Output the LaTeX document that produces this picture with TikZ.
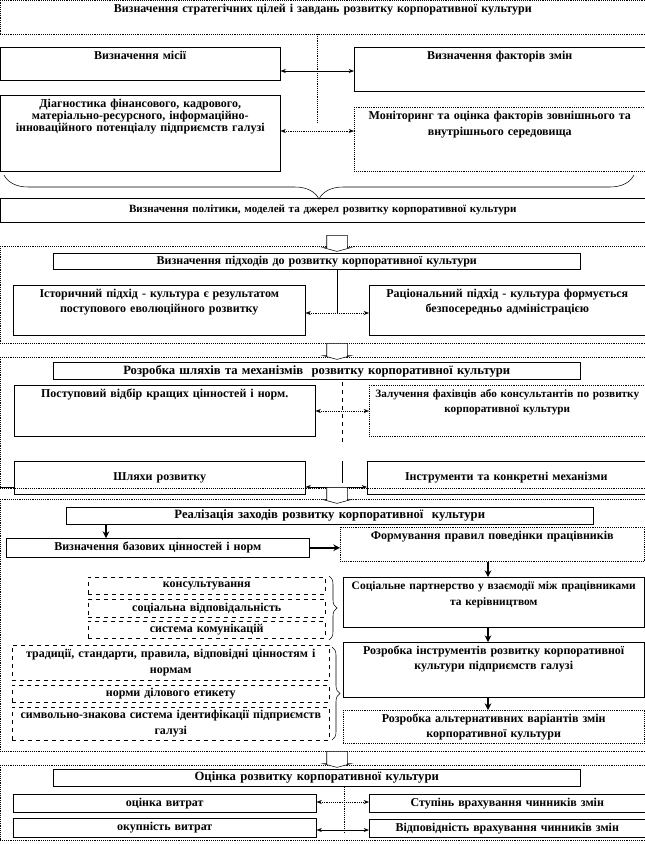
\documentclass[tikz,border=0pt]{standalone}
\usepackage{fontspec}
\setmainfont{Liberation Serif}
\usetikzlibrary{arrows.meta,positioning,shapes.arrows,decorations.pathreplacing}

\tikzset{
  wd/.style 2 args={minimum width=#1*0.75pt, minimum height=#2*0.75pt},
  sz/.style 2 args={wd={#1}{#2}, text width=#1*0.75pt-6pt},
  toptext/.style={text height=7pt, text depth=#1*0.75pt-11pt},
  tbox/.style={draw, anchor=north west, align=center, inner xsep=3pt, inner ysep=2pt},
  dbox/.style={tbox, dashed},
  obox/.style={tbox, densely dotted},
  grp/.style={draw, densely dotted, anchor=north west, inner sep=0pt},
  dar/.style={{Stealth[length=4pt,width=3pt]}-{Stealth[length=4pt,width=3pt]}},
  down/.style={-{Stealth[length=5pt,width=5pt]}, line width=1pt},
  thk/.style={-{Stealth[length=5pt,width=5pt]}, line width=1.4pt},
  brc/.style={decorate, decoration={brace, amplitude=#1}},
  blk/.style={single arrow, draw, fill=white, shape border rotate=270, minimum height=12pt,
    single arrow head extend=3pt, single arrow tip angle=150, inner xsep=7.5pt, inner ysep=4pt},
  fs/.style={font=\fontsize{#1}{11.5}\selectfont\bfseries}
}

\begin{document}
\begin{tikzpicture}[x=0.75pt, y=-0.75pt, every node/.style={font=\fontsize{9}{11.5}\selectfont\bfseries}]
\useasboundingbox (0,0) rectangle (645,844);

% strategic goals
\node[obox, sz={645}{34}, toptext=34] (goal) at (0,0) {Визначення стратегічних цілей і завдань розвитку корпоративної культури};
\coordinate (vtop) at (317,34);
\coordinate (vbot) at (317,123);
\draw[densely dotted] (vtop) -- (vbot);
\node[tbox, sz={280}{33}, toptext=33] (mis) at (0,47) {Визначення місії};
\node[tbox, sz={291}{44}, toptext=44] (fak) at (354,47) {Визначення факторів змін};
\node[tbox, sz={280}{76}, toptext=76, font=\fontsize{9}{9.2}\selectfont\bfseries] (diag) at (0,95) {Діагностика фінансового, кадрового,\\ матеріально-ресурсного, інформаційно-\\інноваційного потенціалу підприємств галузі};
\node[obox, sz={291}{64}, toptext=64, font=\fontsize{9}{12}\selectfont\bfseries] (mon) at (354,107) {Моніторинг та оцінка факторів зовнішнього та\\ внутрішнього середовища};
\draw[dar] (mis.east |- 0,71) -- (fak.west |- 0,71);
\draw[dar, densely dotted] (diag.east |- 0,131) -- (mon.west |- 0,131);
\draw[brc=18pt] (634,175) -- (4,175);
\node[tbox, sz={645}{24}, fs=8.3] (pol) at (0,198) {Визначення політики, моделей та джерел розвитку корпоративної культури};

% approaches
\node[grp, wd={645}{97}] (grp1) at (0,246) {};
\node[blk] (a1) at (337,242) {};
\node[tbox, sz={527}{16}] (app) at (53,253) {Визначення підходів до розвитку корпоративної культури};
\node[tbox, sz={292}{50}, toptext=50] (hist) at (13,285) {Історичний підхід - культура є результатом\\ поступового еволюційного розвитку};
\node[tbox, sz={276}{50}, toptext=50] (rat) at (369,285) {Раціональний підхід - культура формується\\ безпосередньо адміністрацією};
\coordinate (m1) at (337,313);
\draw (app.south -| m1) -- (m1);
\draw[dar, densely dotted] (hist.east |- m1) -- (rat.west |- m1);

% ways and mechanisms
\node[grp, wd={645}{131}] (grp2) at (0,357) {};
\node[blk] (a2) at (337,350) {};
\node[tbox, sz={527}{15}, fs=9.5] (dev) at (53,362) {Розробка шляхів та механізмів \ розвитку корпоративної культури};
\node[tbox, sz={301}{51}, toptext=51] (sel) at (14,385) {Поступовий відбір кращих цінностей і норм.};
\node[obox, sz={276}{51}, toptext=51, fs=8.4] (inv) at (369,385) {Залучення фахівців або консультантів по розвитку\\ корпоративної культури};
\coordinate (d1) at (342,382);
\coordinate (d2) at (342,445);
\draw[dashed] (d1) -- (d2);
\draw[dar, densely dotted] (sel.east |- 0,411) -- (inv.west |- 0,411);
\node[tbox, sz={291}{33}] (shl) at (14,461) {Шляхи розвитку};
\node[tbox, sz={278}{33}] (ins) at (367,461) {Інструменти та конкретні механізми};
\coordinate (s1) at (342,461);
\coordinate (s2) at (342,483);
\draw (s1) -- (s2);
\draw[dar] (shl.east |- 0,487) -- (ins.west |- 0,487);
\draw (0,487) -- (shl.west |- 0,487);

% realization
\node[grp, wd={645}{252}] (grp3) at (0,499) {};
\node[blk] (a3) at (337,494) {};
\node[tbox, sz={527}{17}, fs=9.5] (real) at (66,507) {Реалізація заходів розвитку корпоративної \ культури};
\node[tbox, sz={303}{19}] (base) at (6,538) {Визначення базових цінностей і норм};
\node[obox, sz={304}{34}, toptext=34] (form) at (340,527) {Формування правил поведінки працівників};
\draw[thk] (real.south -| 106,0) -- (base.north -| 106,0);
\draw[thk] (base.east) -- (form.west |- base.east);
\node[tbox, sz={301}{50}, toptext=50, font=\fontsize{8.6}{12.5}\selectfont\bfseries] (soc) at (343,577) {Соціальне партнерство у взаємодії між працівниками\\ та керівництвом};
\node[dbox, sz={237}{17}] (kons) at (88,577) {консультування};
\node[dbox, sz={237}{18}] (resp) at (88,599) {соціальна відповідальність};
\node[dbox, sz={237}{17}] (komm) at (88,621) {система комунікацій};
\draw[brc=6pt] (329,576) -- (329,640);
\draw[down] (form.south -| 488,0) -- (soc.north -| 488,0);
\node[tbox, sz={301}{55}, toptext=55] (tool) at (343,642) {Розробка інструментів розвитку корпоративної\\ культури підприємств галузі};
\node[dbox, sz={317}{35}] (trad) at (12,645) {традиції, стандарти, правила, відповідні цінностям і\\ нормам};
\node[dbox, sz={317}{17}] (etyk) at (12,685) {норми ділового етикету};
\node[dbox, sz={317}{33}] (symb) at (12,707) {символьно-знакова система ідентифікації підприємств\\ галузі};
\draw[brc=6pt] (332,647) -- (332,740);
\draw[down] (soc.south -| 488,0) -- (tool.north -| 488,0);
\node[obox, sz={301}{33}] (alt) at (343,710) {Розробка альтернативних варіантів змін\\ корпоративної культури};
\draw[down] (tool.south -| 488,0) -- (alt.north -| 488,0);

% evaluation
\node[grp, wd={645}{75}] (grp4) at (0,765) {};
\node[blk] (a4) at (337,758) {};
\node[tbox, sz={527}{17}, fs=9.5] (eval) at (53,769) {Оцінка розвитку корпоративної культури};
\coordinate (e1) at (344,787);
\coordinate (e2) at (344,832);
\draw[densely dotted] (e1) -- (e2);
\node[tbox, sz={303}{18}] (cost) at (13,794) {оцінка витрат};
\node[tbox, sz={276}{18}] (deg) at (369,794) {Ступінь врахування чинників змін};
\node[tbox, sz={303}{19}] (pay) at (13,818) {окупність витрат};
\node[tbox, sz={276}{18}] (fit) at (369,819) {Відповідність врахування чинників змін};
\draw[dar, densely dotted] (cost.east |- 0,802) -- (deg.west |- 0,802);
\draw[dar] (pay.east |- 0,830) -- (fit.west |- 0,830);
\end{tikzpicture}
\end{document}
